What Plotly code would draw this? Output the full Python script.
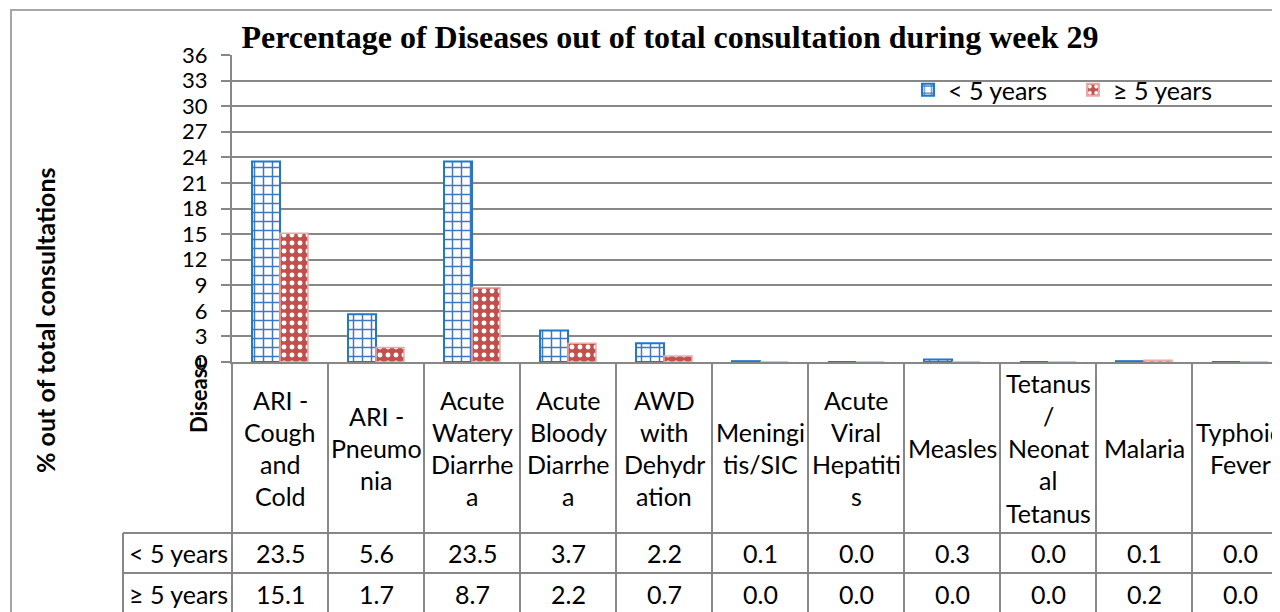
import plotly.graph_objects as go

# ---------------- data ----------------
categories = ["ARI - Cough and Cold", "ARI - Pneumonia", "Acute Watery Diarrhea",
              "Acute Bloody Diarrhea", "AWD with Dehydration", "Meningitis/SIC",
              "Acute Viral Hepatitis", "Measles", "Tetanus / Neonatal Tetanus",
              "Malaria", "Typhoid Fever"]
category_labels = ["ARI -<br>Cough<br>and<br>Cold", "ARI -<br>Pneumo<br>nia",
                   "Acute<br>Watery<br>Diarrhe<br>a", "Acute<br>Bloody<br>Diarrhe<br>a",
                   "AWD<br>with<br>Dehydr<br>ation", "Meningi<br>tis/SIC",
                   "Acute<br>Viral<br>Hepatiti<br>s", "Measles",
                   "Tetanus<br>/<br>Neonat<br>al<br>Tetanus", "Malaria", "Typhoid<br>Fever"]
under5 = [23.5, 5.6, 23.5, 3.7, 2.2, 0.1, 0.0, 0.3, 0.0, 0.1, 0.0]
over5 = [15.1, 1.7, 8.7, 2.2, 0.7, 0.0, 0.0, 0.0, 0.0, 0.2, 0.0]
series_names = ["< 5 years", "≥ 5 years"]
y_ticks = list(range(0, 37, 3))
title_text = "Percentage of Diseases out of total consultation during week 29"
y_title = "% out of total consultations"
x_title = "Disease"

# ---------------- layout geometry ----------------
OFF = 8                               # page body margin
W, H = 1280 - OFF, 612 - OFF
L, R, T, B = 232 - OFF, 0, 55 - OFF, 612 - 362   # plot area (page) 232..1280 x 55..362
PW, PH = W - L - R, H - T - B
X0 = -0.5
X1 = X0 + PW / 96.0                   # 96 px per category
SANS = "Lato, 'Open Sans', sans-serif"
GRID = "#878787"
FS = 25


def py(Y):  # page pixel row -> paper y
    return (H - B - (Y - OFF)) / PH


def px(X):  # page pixel column -> paper x
    return (X - OFF - L) / PW


idx = list(range(len(categories)))

fig = go.Figure()
fig.add_trace(go.Bar(
    x=idx, y=under5, name=series_names[0],
    marker=dict(color="white", line=dict(color="#1F78C8", width=2),
                pattern=dict(shape="+", fgcolor="#3F78C0", bgcolor="white",
                             size=9, solidity=0.3, fillmode="replace")),
))
fig.add_trace(go.Bar(
    x=idx, y=over5, name=series_names[1],
    marker=dict(color="#C0504D", line=dict(color="#E9A9A8", width=1.5),
                pattern=dict(shape=".", fgcolor="white", bgcolor="#C0504D",
                             size=8, solidity=0.3, fillmode="replace")),
))

shapes = []
line = dict(color=GRID, width=2)
# outer chart frame (cropped)
shapes.append(dict(type="line", xref="paper", yref="paper", x0=px(10), x1=px(1282),
                   y0=py(10), y1=py(10), line=dict(color="#A6A6A6", width=2)))
shapes.append(dict(type="line", xref="paper", yref="paper", x0=px(11), x1=px(11),
                   y0=py(10), y1=py(614), line=dict(color="#A6A6A6", width=2)))
# data table vertical lines at category boundaries
for k in range(len(categories) + 1):
    xb = px(232 + 96 * k)
    if xb > 1.01:
        continue
    shapes.append(dict(type="line", xref="paper", yref="paper", x0=xb, x1=xb,
                       y0=py(362), y1=py(614), line=line))
# row header cell left border
shapes.append(dict(type="line", xref="paper", yref="paper", x0=px(123), x1=px(123),
                   y0=py(533), y1=py(614), line=line))
# horizontal table lines
for Yr in (533, 573):
    shapes.append(dict(type="line", xref="paper", yref="paper", x0=px(123), x1=px(1282),
                       y0=py(Yr), y1=py(Yr), line=line))

ann = []
LINE_H = 32.3
# category header cells
for i, lab in enumerate(category_labels):
    parts = lab.split("<br>")
    n = len(parts)
    for j, p in enumerate(parts):
        Yc = 448 + (j - (n - 1) / 2) * LINE_H
        ann.append(dict(x=i, xref="x", y=py(Yc), yref="paper", text=p, showarrow=False,
                        xanchor="center", yanchor="middle",
                        font=dict(family=SANS, size=FS, color="black")))
# value rows
for row_vals, Yc, rname in ((under5, 553, series_names[0]), (over5, 594, series_names[1])):
    ann.append(dict(x=px(127), xref="paper", y=py(Yc), yref="paper", text=rname,
                    showarrow=False, xanchor="left", yanchor="middle",
                    font=dict(family=SANS, size=FS, color="black")))
    for i, v in enumerate(row_vals):
        ann.append(dict(x=i, xref="x", y=py(Yc), yref="paper", text=f"{v:.1f}",
                        showarrow=False, xanchor="center", yanchor="middle",
                        font=dict(family=SANS, size=FS, color="black")))
# axis titles
ann.append(dict(x=px(198), xref="paper", y=py(395), yref="paper", text=f"<b>{x_title}</b>",
                showarrow=False, textangle=-90, xanchor="center", yanchor="middle",
                font=dict(family=SANS, size=22, color="black")))
ann.append(dict(x=px(45), xref="paper", y=py(320), yref="paper", text=f"<b>{y_title}</b>",
                showarrow=False, textangle=-90, xanchor="center", yanchor="middle",
                font=dict(family=SANS, size=25, color="black")))

fig.update_layout(
    width=W, height=H,
    margin=dict(l=L, r=R, t=T, b=B, autoexpand=False),
    paper_bgcolor="white", plot_bgcolor="white",
    title=dict(text=f"<b>{title_text}</b>", x=(670 - OFF) / W, xanchor="center",
               y=1 - (37 - OFF) / H, yanchor="middle", yref="container",
               font=dict(family="'Liberation Serif', 'Times New Roman', serif",
                         size=32, color="black")),
    barmode="group", bargap=0.417, bargroupgap=0,
    xaxis=dict(range=[X0, X1], showticklabels=False, showgrid=False, zeroline=False,
               showline=True, linecolor=GRID, linewidth=2, ticks=""),
    yaxis=dict(range=[0, 36], tickvals=y_ticks, showgrid=True, gridcolor=GRID, gridwidth=2,
               zeroline=False, showline=True, linecolor=GRID, linewidth=2,
               ticks="outside", ticklen=9, tickwidth=2, tickcolor=GRID,
               ticklabelstandoff=9,
               tickfont=dict(family=SANS, size=22, color="black")),
    legend=dict(orientation="h", x=px(908), xanchor="left", y=py(90), yanchor="middle",
                font=dict(family=SANS, size=FS, color="black"),
                bgcolor="rgba(255,255,255,0)", entrywidth=120, entrywidthmode="pixels",
                itemsizing="constant"),
    shapes=shapes, annotations=ann,
)

fig.write_html("out.html")
